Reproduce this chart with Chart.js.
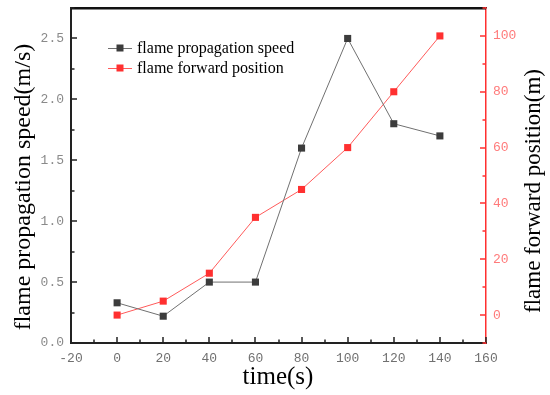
<!DOCTYPE html>
<html>
<head>
<meta charset="utf-8">
<script src="https://cdn.jsdelivr.net/npm/chart.js@4/dist/chart.umd.min.js"></script>
<style>
html,body{margin:0;padding:0;background:#fff;}
#wrap{width:550px;height:395px;}
</style>
</head>
<body>
<div id="wrap"><canvas id="c" width="550" height="395"></canvas></div>
<script>
const times = [0, 20, 40, 60, 80, 100, 120, 140];
const speed = [0.33, 0.22, 0.50, 0.50, 1.60, 2.50, 1.80, 1.70];
const position = [0, 5, 15, 35, 45, 60, 80, 100];
const xTicks = [-20, 0, 20, 40, 60, 80, 100, 120, 140, 160];
const leftTicks = [0, 0.5, 1.0, 1.5, 2.0, 2.5];
const rightTicks = [0, 20, 40, 60, 80, 100];
const xTitle = 'time(s)';
const leftTitle = 'flame propagation speed(m/s)';
const rightTitle = 'flame forward position(m)';

const serif = "'Liberation Serif', 'Times New Roman', serif";
const mono = "'Liberation Mono', monospace";

function drawTicks(chart) {
  const ctx = chart.ctx, a = chart.chartArea;
  const xs = chart.scales.x, yl = chart.scales.y, yr = chart.scales.y1;
  ctx.save();
  ctx.fillStyle = '#111111';
  ctx.fillRect(a.left, a.top, a.right - a.left, 1.5);
  ctx.fillStyle = '#222222';
  for (let v = -20; v <= 160; v += 10) {
    const px = Math.round(xs.getPixelForValue(v));
    const len = (v % 20 === 0) ? 6 : 3.5;
    ctx.fillRect(px - 0.75, a.bottom - len, 1.5, len);
  }
  for (let k = 0; k <= 11; k++) {
    const py = Math.round(yl.getPixelForValue(k * 0.25));
    const len = (k % 2 === 0) ? 6 : 3.5;
    ctx.fillRect(a.left, py - 0.75, len, 1.5);
  }
  ctx.fillStyle = '#ff3030';
  for (let v = -10; v <= 110; v += 10) {
    const py = Math.round(yr.getPixelForValue(v));
    const len = (v % 20 === 0) ? 6 : 3.5;
    ctx.fillRect(a.right - len, py - 0.75, len, 1.5);
  }
  ctx.restore();
}

function drawLegendAndTitles(chart) {
  const ctx = chart.ctx;
  ctx.save();
  ctx.font = "16px " + serif;
  ctx.textBaseline = 'middle';
  ctx.textAlign = 'left';
  const rows = [48, 68];
  chart.data.datasets.forEach((ds, i) => {
    const y = rows[i];
    ctx.strokeStyle = ds.borderColor; ctx.lineWidth = 1;
    ctx.beginPath(); ctx.moveTo(108, y + 0.5); ctx.lineTo(132, y + 0.5); ctx.stroke();
    ctx.fillStyle = ds.pointBackgroundColor;
    ctx.fillRect(116.5, y - 3.5, 7, 7);
    ctx.fillStyle = '#000';
    ctx.fillText(ds.label, 137, y + 1);
  });
  ctx.fillStyle = '#000';
  ctx.textAlign = 'center';
  ctx.textBaseline = 'alphabetic';
  ctx.font = "25px " + serif;
  ctx.fillText(xTitle, 278, 384);
  ctx.font = "24px " + serif;
  ctx.save(); ctx.translate(30, 187); ctx.rotate(-Math.PI / 2); ctx.fillText(leftTitle, 0, 0); ctx.restore();
  ctx.font = "23px " + serif;
  ctx.save(); ctx.translate(540, 191); ctx.rotate(-Math.PI / 2); ctx.fillText(rightTitle, 0, 0); ctx.restore();
  ctx.restore();
}

const decor = {
  id: 'decor',
  afterDraw(chart) {
    drawTicks(chart);
    drawLegendAndTitles(chart);
  }
};

new Chart(document.getElementById('c'), {
  type: 'line',
  data: {
    datasets: [
      { label: 'flame propagation speed', data: times.map((t, i) => ({ x: t, y: speed[i] })), yAxisID: 'y',
        borderColor: '#707070', borderWidth: 1, pointBackgroundColor: '#3c3c3c', pointBorderColor: '#3c3c3c',
        pointStyle: 'rect', pointRadius: 5, pointBorderWidth: 0, tension: 0 },
      { label: 'flame forward position', data: times.map((t, i) => ({ x: t, y: position[i] })), yAxisID: 'y1',
        borderColor: '#ff5a5a', borderWidth: 1, pointBackgroundColor: '#ff3030', pointBorderColor: '#ff3030',
        pointStyle: 'rect', pointRadius: 5, pointBorderWidth: 0, tension: 0 }
    ]
  },
  options: {
    responsive: false, animation: false,
    layout: { padding: { top: 8, left: 0, right: 0, bottom: 0 } },
    plugins: { legend: { display: false }, tooltip: { enabled: false } },
    scales: {
      x: { type: 'linear', min: -20, max: 160,
        afterBuildTicks: s => { s.ticks = xTicks.map(v => ({ value: v })); },
        afterFit: s => { s.height = 52; },
        grid: { display: false, drawTicks: false }, border: { display: true, color: '#222', width: 2 },
        ticks: { color: '#707070', font: { family: mono, size: 13 }, padding: 8, maxRotation: 0 } },
      xTop: { type: 'linear', position: 'top', min: -20, max: 160,
        afterFit: s => { s.height = 0; s.paddingLeft = 0; s.paddingRight = 0; },
        grid: { display: false, drawTicks: false }, border: { display: true, color: '#111', width: 1.5 },
        ticks: { display: false } },
      y: { type: 'linear', position: 'left', min: 0, max: 2.75,
        afterBuildTicks: s => { s.ticks = leftTicks.map(v => ({ value: v })); },
        afterFit: s => { s.width = 71; s.paddingTop = 0; s.paddingBottom = 0; },
        grid: { display: false, drawTicks: false }, border: { display: true, color: '#222', width: 2 },
        ticks: { color: '#8a8a8a', font: { family: mono, size: 13 }, padding: 7, callback: v => v.toFixed(1) } },
      y1: { type: 'linear', position: 'right', min: -10, max: 110,
        afterBuildTicks: s => { s.ticks = rightTicks.map(v => ({ value: v })); },
        afterFit: s => { s.width = 64; s.paddingTop = 0; s.paddingBottom = 0; },
        grid: { display: false, drawTicks: false }, border: { display: true, color: '#ff3030', width: 1.5 },
        ticks: { color: '#ff7a7a', font: { family: mono, size: 13 }, padding: 7 } }
    }
  },
  plugins: [decor]
});
</script>
</body>
</html>
